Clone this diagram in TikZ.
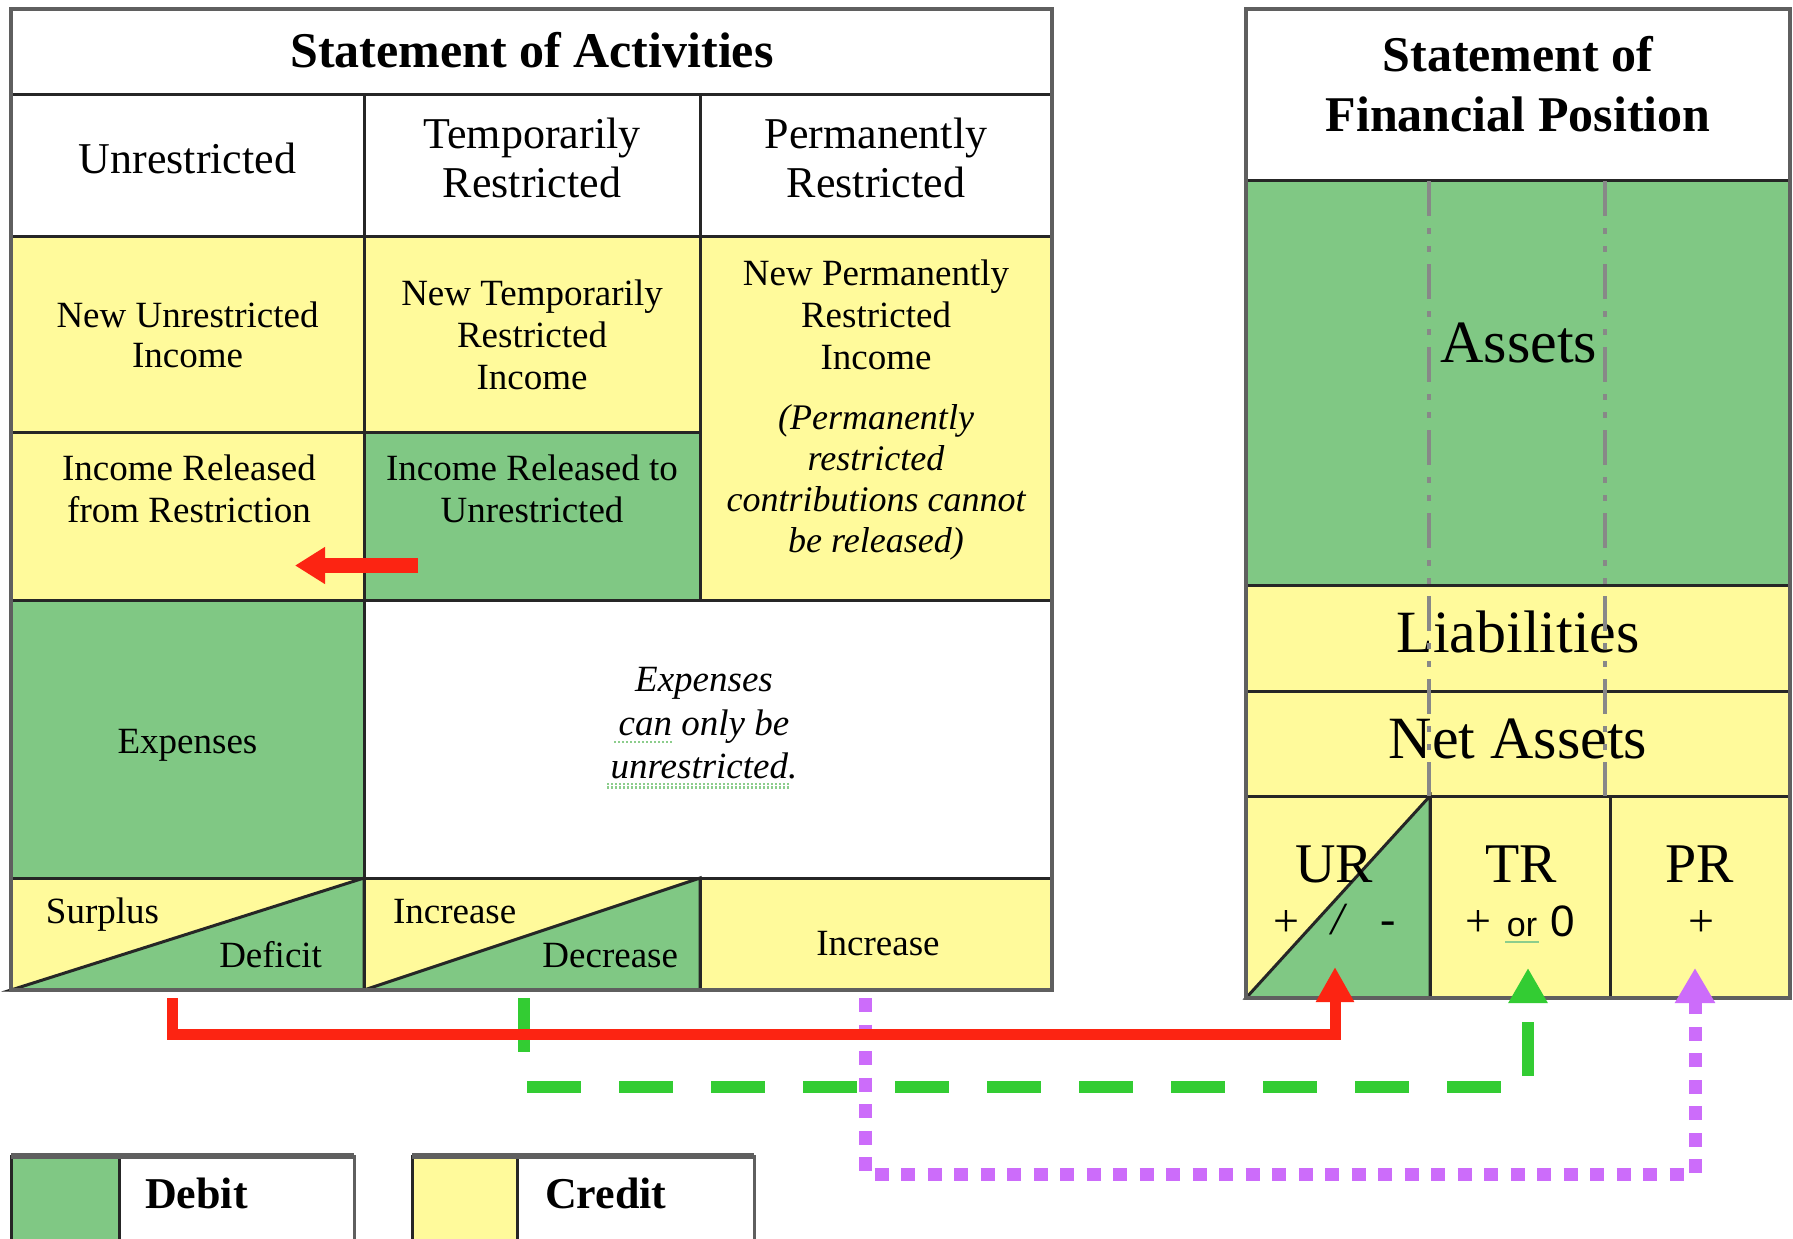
\documentclass[tikz,border=0pt]{standalone}
\usepackage{fontspec}
\setmainfont{Liberation Serif}
\newfontfamily\sansfam{Liberation Sans}
\usetikzlibrary{arrows.meta,fit}

\definecolor{debitgreen}{RGB}{128,200,132}
\definecolor{credityellow}{RGB}{255,250,155}
\definecolor{gridline}{RGB}{38,38,38}
\definecolor{framegray}{RGB}{95,95,95}
\definecolor{flowred}{RGB}{252,36,18}
\definecolor{flowgreen}{RGB}{51,204,51}
\definecolor{flowviolet}{RGB}{204,108,250}
\definecolor{guidegray}{RGB}{136,136,136}
\definecolor{spellgreen}{RGB}{140,205,140}

\newcommand{\setfs}[2]{\fontsize{#1}{#2}\selectfont}

\begin{document}
\begin{tikzpicture}[x=0.5pt,y=-0.5pt,
  cellbox/.style={inner sep=0pt,outer sep=0pt,draw=gridline,line width=1.5pt},
  debitcell/.style={cellbox,fill=debitgreen},
  creditcell/.style={cellbox,fill=credityellow},
  plaincell/.style={cellbox,fill=white},
  rule/.style={draw=gridline,line width=1.5pt},
  lbl/.style={inner sep=0pt,outer sep=0pt,align=center,text=black},
  bodytext/.style={lbl,font=\setfs{18.5}{21}},
  notetext/.style={lbl,font=\itshape\setfs{18}{20.5}},
  colhead/.style={lbl,font=\setfs{22}{24.5}},
  sheethead/.style={lbl,font=\bfseries\setfs{25}{30}},
  bigtext/.style={lbl,font=\setfs{30}{34}},
  classtext/.style={lbl,font=\setfs{28}{32}},
  signtext/.style={lbl,font=\setfs{23}{26}},
  keytext/.style={lbl,font=\bfseries\setfs{22}{26}},
  guideline/.style={draw=guidegray,line width=2.25pt,
    dash pattern=on 17.5pt off 6pt on 3pt off 6pt on 3pt off 6pt},
  spellmark/.style={draw=spellgreen,line width=1.2pt,dash pattern=on 1.2pt off 0.8pt},
  redflow/.style={draw=flowred,line width=5.5pt,
    -{Triangle[length=17.5pt,width=18pt]}},
  greenflow/.style={draw=flowgreen,line width=6pt,dash pattern=on 27pt off 19pt,
    -{Triangle[length=17.5pt,width=18.5pt]}},
  violetflow/.style={draw=flowviolet,line width=6.5pt,dash pattern=on 7pt off 6.25pt,
    -{Triangle[length=17.5pt,width=19pt]}},
]
\useasboundingbox (0,0) rectangle (1793,1238);
\clip (0,0) rectangle (1793,1238);

% ---------------- Statement of Activities ----------------
\node[plaincell,fit={(11,9)(1052,94)}] (actTitle) {};
\node[plaincell,fit={(11,94)(364,236)}] (hdUR) {};
\node[plaincell,fit={(364,94)(700,236)}] (hdTR) {};
\node[plaincell,fit={(700,94)(1052,236)}] (hdPR) {};
\node[creditcell,fit={(11,236)(364,432)}] (newUR) {};
\node[creditcell,fit={(364,236)(700,432)}] (newTR) {};
\node[creditcell,fit={(700,236)(1052,600)}] (newPR) {};
\node[creditcell,fit={(11,432)(364,600)}] (relFrom) {};
\node[debitcell,fit={(364,432)(700,600)}] (relTo) {};
\node[debitcell,fit={(11,600)(364,878)}] (expUR) {};
\node[plaincell,fit={(364,600)(1052,878)}] (expNote) {};
\node[creditcell,fit={(11,878)(364,990)}] (chgUR) {};
\node[creditcell,fit={(364,878)(700,990)}] (chgTR) {};
\node[creditcell,fit={(700,878)(1052,990)}] (chgPR) {};

% split cells: credit above the diagonal, debit below it
\fill[debitgreen] (chgUR.south west) -- (chgUR.north east) -- (chgUR.south east) -- cycle;
\draw[rule] (chgUR.south west) -- (chgUR.north east) -- (chgUR.south east) -- cycle;
\fill[debitgreen] (chgTR.south west) -- (chgTR.north east) -- (chgTR.south east) -- cycle;
\draw[rule] (chgTR.south west) -- (chgTR.north east) -- (chgTR.south east) -- cycle;
\draw[draw=framegray,line width=2pt] (11,9) rectangle (1052,990);

% ---------------- Statement of Financial Position ----------------
\node[plaincell,fit={(1246,9)(1790,180)}] (posTitle) {};
\node[debitcell,fit={(1246,180)(1790,585)}] (assets) {};
\node[creditcell,fit={(1246,585)(1790,691)}] (liab) {};
\node[creditcell,fit={(1246,691)(1790,796)}] (netAssets) {};
\node[creditcell,fit={(1246,796)(1430,998)}] (naUR) {};
\node[creditcell,fit={(1430,796)(1610,998)}] (naTR) {};
\node[creditcell,fit={(1610,796)(1790,998)}] (naPR) {};
\fill[debitgreen] (naUR.south west) -- (naUR.north east) -- (naUR.south east) -- cycle;
\draw[rule] (naUR.south west) -- (naUR.north east) -- (naUR.south east) -- cycle;
\draw[draw=framegray,line width=2pt] (1246,9) rectangle (1790,998);

% ---------------- texts, left sheet ----------------
\node[sheethead,anchor=base] (actTitleText) at (532,67) {Statement of Activities};
\node[colhead,anchor=base] (hdURText) at (187.5,173) {Unrestricted};
\node[colhead] (hdTRText) at (532,157.5) {Temporarily\\Restricted};
\node[colhead] (hdPRText) at (876,157.5) {Permanently\\Restricted};
\node[bodytext,font=\setfs{18.5}{20}] (newURText) at (187.5,335) {New Unrestricted\\Income};
\node[bodytext] (newTRText) at (532,335) {New Temporarily\\Restricted\\Income};
\node[bodytext] (newPRText) at (876,315) {New Permanently\\Restricted\\Income};
\node[notetext] (newPRNote) at (876,482)
  {(Permanently\\restricted\\contributions cannot\\be released)};
\node[bodytext] (relFromText) at (189,489) {Income Released\\from Restriction};
\node[bodytext] (relToText) at (532,489) {Income Released to\\Unrestricted};
\node[bodytext,anchor=base] (expURText) at (187.5,753) {Expenses};
\node[lbl,font=\itshape\setfs{18.5}{21.75}] (expNoteText) at (704,723.5)
  {Expenses\\can only be\\unrestricted.};
\draw[spellmark] (614,742) -- (672,742);
\draw[spellmark] (607,784) -- (790,784);
\draw[spellmark] (607,787.5) -- (790,787.5);
\node[bodytext,anchor=base west] (surplusText) at (46,923) {Surplus};
\node[bodytext,anchor=base east] (deficitText) at (322,967) {Deficit};
\node[bodytext,anchor=base west] (incTRText) at (393,923) {Increase};
\node[bodytext,anchor=base east] (decTRText) at (678,967) {Decrease};
\node[bodytext,anchor=base] (incPRText) at (878,955) {Increase};

% ---------------- texts, right sheet ----------------
\node[sheethead] (posTitleText) at (1518,84) {Statement of\\Financial Position};
\node[bigtext,anchor=base] (assetsText) at (1519,362) {Assets};
\node[bigtext,anchor=base] (liabText) at (1518,652) {Liabilities};
\node[bigtext,anchor=base] (netText) at (1518,758) {Net Assets};
\node[classtext,anchor=base] (urText) at (1334,882) {UR};
\node[classtext,anchor=base] (trText) at (1521,882) {TR};
\node[classtext,anchor=base] (prText) at (1700,882) {PR};
\node[signtext,anchor=base] (urPlus) at (1286,936) {+};
\node[signtext,anchor=base] (urSlash) at (1338,934) {\itshape /};
\node[signtext,anchor=base] (urMinus) at (1388,934) {-};
\node[signtext,anchor=base] (trPlus) at (1478,936) {+};
\node[lbl,font=\sansfam\setfs{17}{20},anchor=base] (trOr) at (1522,936) {or};
\node[lbl,font=\sansfam\setfs{22}{26},anchor=base] (trZero) at (1563,936) {0};
\draw[draw=spellgreen,line width=1.2pt] (1505,942) -- (1539,942);
\node[signtext,anchor=base] (prPlus) at (1701,936) {+};

% column guides running through the balance sheet
\draw[guideline] (1429,181) -- (1429,796);
\draw[guideline] (1605,181) -- (1605,796);

% ---------------- release arrow ----------------
\coordinate (relStart) at (418,565.5);
\coordinate (relEnd) at (295,565.5);
\draw[draw=flowred,line width=7.5pt,-{Triangle[length=15pt,width=17.5pt]}] (relStart) -- (relEnd);

% ---------------- flows into net assets ----------------
\coordinate (violetFrom) at (865,998);
\coordinate (violetBend) at (1695,1174);
\coordinate (violetTo) at (1695,968);
\draw[violetflow] (violetFrom) |- (violetBend) -- (violetTo);

\coordinate (greenFrom) at (524,998);
\coordinate (greenBend) at (1528,1087);
\coordinate (greenTo) at (1528,968);
\draw[greenflow] (greenFrom) |- (greenBend) -- (greenTo);

\coordinate (redFrom) at (172,998);
\coordinate (redBend) at (1335,1034);
\coordinate (redTo) at (1335,967);
\draw[redflow] (redFrom) |- (redBend) -- (redTo);

% ---------------- key ----------------
\node[plaincell,draw=framegray,fit={(11,1156)(354,1262)}] (debitKey) {};
\node[debitcell,fit={(11,1156)(119,1262)}] (debitSwatch) {};
\draw[draw=framegray,line width=2.75pt] (debitKey.north west) -- (debitKey.north east);
\node[keytext,anchor=west] (debitText) at (145,1193) {Debit};
\node[plaincell,draw=framegray,fit={(412,1156)(754,1262)}] (creditKey) {};
\node[creditcell,fit={(412,1156)(517,1262)}] (creditSwatch) {};
\draw[draw=framegray,line width=2.75pt] (creditKey.north west) -- (creditKey.north east);
\node[keytext,anchor=west] (creditText) at (545,1193) {Credit};
\end{tikzpicture}
\end{document}
